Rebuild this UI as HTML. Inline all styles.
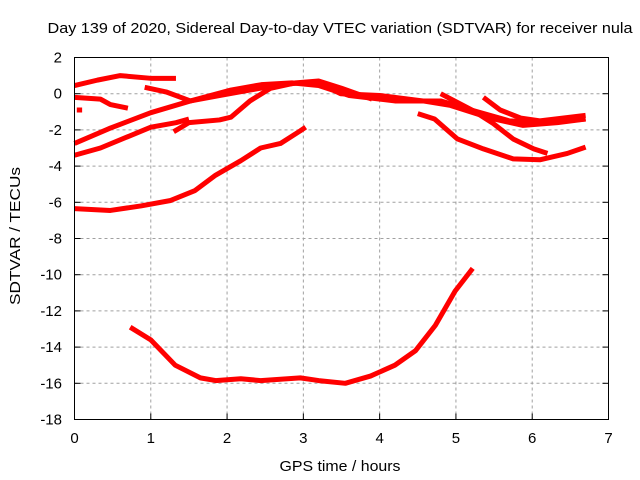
<!DOCTYPE html>
<html><head><meta charset="utf-8">
<style>
body{margin:0;background:#fff;}
svg{display:block;font-family:"Liberation Sans",sans-serif;}
</style></head>
<body>
<svg id="chart" width="640" height="480">
<text x="340" y="33" font-size="15" text-anchor="middle" textLength="585" lengthAdjust="spacingAndGlyphs">Day 139 of 2020, Sidereal Day-to-day VTEC variation (SDTVAR) for receiver nula</text>
<text x="340" y="471" font-size="15" text-anchor="middle" textLength="121" lengthAdjust="spacingAndGlyphs">GPS time / hours</text>
<text transform="translate(20,236) rotate(-90)" font-size="15" text-anchor="middle" textLength="138" lengthAdjust="spacingAndGlyphs">SDTVAR / TECUs</text>
<g id="grid"></g><g id="ticks"></g><g id="series"></g>
<rect x="74.5" y="57.5" width="534" height="362" fill="none" stroke="#000" stroke-width="1"/>
</svg>
<script>
const xTicks=[0,1,2,3,4,5,6,7];
const yTicks=[2,0,-2,-4,-6,-8,-10,-12,-14,-16,-18];
const s1=[[0,0.45],[0.3,0.75],[0.6,1.0],[1.0,0.85],[1.33,0.85]];
const s2=[[0,-0.2],[0.34,-0.3],[0.47,-0.6],[0.7,-0.8]];
const s2b=[[0.03,-0.9],[0.1,-0.9]];
const s3=[[0.92,0.35],[1.2,0.1],[1.52,-0.4],[2.05,0.2],[2.45,0.5],[2.85,0.6],[3.2,0.45],[3.6,-0.1],[4.2,-0.4],[4.8,-0.4],[5.2,-0.9],[5.7,-1.5],[6.2,-1.6],[6.7,-1.4]];
const s4=[[0,-2.75],[0.47,-1.9],[1.0,-1.05],[1.52,-0.4],[1.9,-0.1],[2.3,0.2],[2.7,0.5],[2.96,0.6],[3.2,0.6],[3.49,0.0],[4.0,-0.1],[4.57,-0.4],[4.93,-0.65],[5.45,-1.35],[5.88,-1.75],[6.33,-1.6],[6.7,-1.4]];
const s5=[[0,-3.4],[0.34,-3.0],[1.0,-1.85],[1.33,-1.6],[1.5,-1.4]];
const s5b=[[1.3,-2.1],[1.5,-1.6],[1.9,-1.45],[2.05,-1.3],[2.3,-0.4],[2.57,0.3],[2.9,0.6],[3.2,0.7],[3.5,0.3],[3.9,-0.3]];
const s6=[[0,-6.35],[0.47,-6.45],[0.87,-6.2],[1.26,-5.9],[1.58,-5.35],[1.85,-4.5],[2.18,-3.7],[2.44,-3.0],[2.7,-2.75],[2.96,-2.05],[3.03,-1.85]];
const s7=[[0.73,-12.9],[1.0,-13.6],[1.32,-15.0],[1.65,-15.7],[1.85,-15.85],[2.18,-15.75],[2.44,-15.85],[2.96,-15.7],[3.2,-15.85],[3.55,-16.0],[3.88,-15.6],[4.2,-15.0],[4.47,-14.2],[4.73,-12.8],[4.99,-10.9],[5.22,-9.65]];
const r1=[[4.5,-1.1],[4.72,-1.4],[5.02,-2.5],[5.36,-3.05],[5.75,-3.6],[6.1,-3.65],[6.46,-3.3],[6.7,-2.95]];
const r2=[[4.8,0.0],[5.23,-0.95],[5.49,-1.65],[5.75,-2.5],[6.02,-3.05],[6.2,-3.3]];
const r3=[[5.36,-0.2],[5.58,-0.9],[5.85,-1.35],[6.1,-1.5],[6.7,-1.2]];
const allSeries=[s1,s2,s2b,s3,s4,s5,s5b,s6,s7,r1,r2,r3];
const NS="http://www.w3.org/2000/svg";
const X0=74.5,X1=608.5,Y0=57.5,Y1=419.5;
function xs(h){return X0+(h-0)/(7-0)*(X1-X0);}
function ys(v){return Y0+(2-v)/(2+18)*(Y1-Y0);}
function mk(t,a,p){const e=document.createElementNS(NS,t);for(const k in a)e.setAttribute(k,a[k]);p.appendChild(e);return e;}
const grid=document.getElementById('grid'),ticks=document.getElementById('ticks'),ser=document.getElementById('series');
xTicks.forEach(t=>{const x=xs(t);
 if(t>0&&t<7){const l=mk('line',{x1:x,x2:x,y1:Y0,y2:Y1,stroke:'#a0a0a0','stroke-dasharray':'3,3'},grid);
 
 }
 const tk=mk('line',{x1:x,x2:x,y1:Y1,y2:Y1-6,stroke:'#000'},ticks);
 
 
 const tx=mk('text',{x:x,y:443,'font-size':15,'text-anchor':'middle'},ticks);tx.textContent=t;
 
 
});
yTicks.forEach(t=>{const y=ys(t);
 if(t<2&&t>-18){const l=mk('line',{x1:X0,x2:X1,y1:y,y2:y,stroke:'#a0a0a0','stroke-dasharray':'3,3'},grid);
 
 }
 const tk=mk('line',{x1:X0,x2:X0+6,y1:y,y2:y,stroke:'#000'},ticks);
 
 
 const tk2=mk('line',{x1:X1,x2:X1-6,y1:y,y2:y,stroke:'#000'},ticks);
 
 
 const tx=mk('text',{x:62,y:y+5,'font-size':15,'text-anchor':'end'},ticks);tx.textContent=t;
 
 
});
allSeries.forEach((s,i)=>{
 const p=mk('polyline',{points:s.map(d=>xs(d[0])+','+ys(d[1])).join(' '),fill:'none',stroke:'#ff0000','stroke-width':5,'stroke-linejoin':'round'},ser);
 
 
});
</script>
</body></html>
